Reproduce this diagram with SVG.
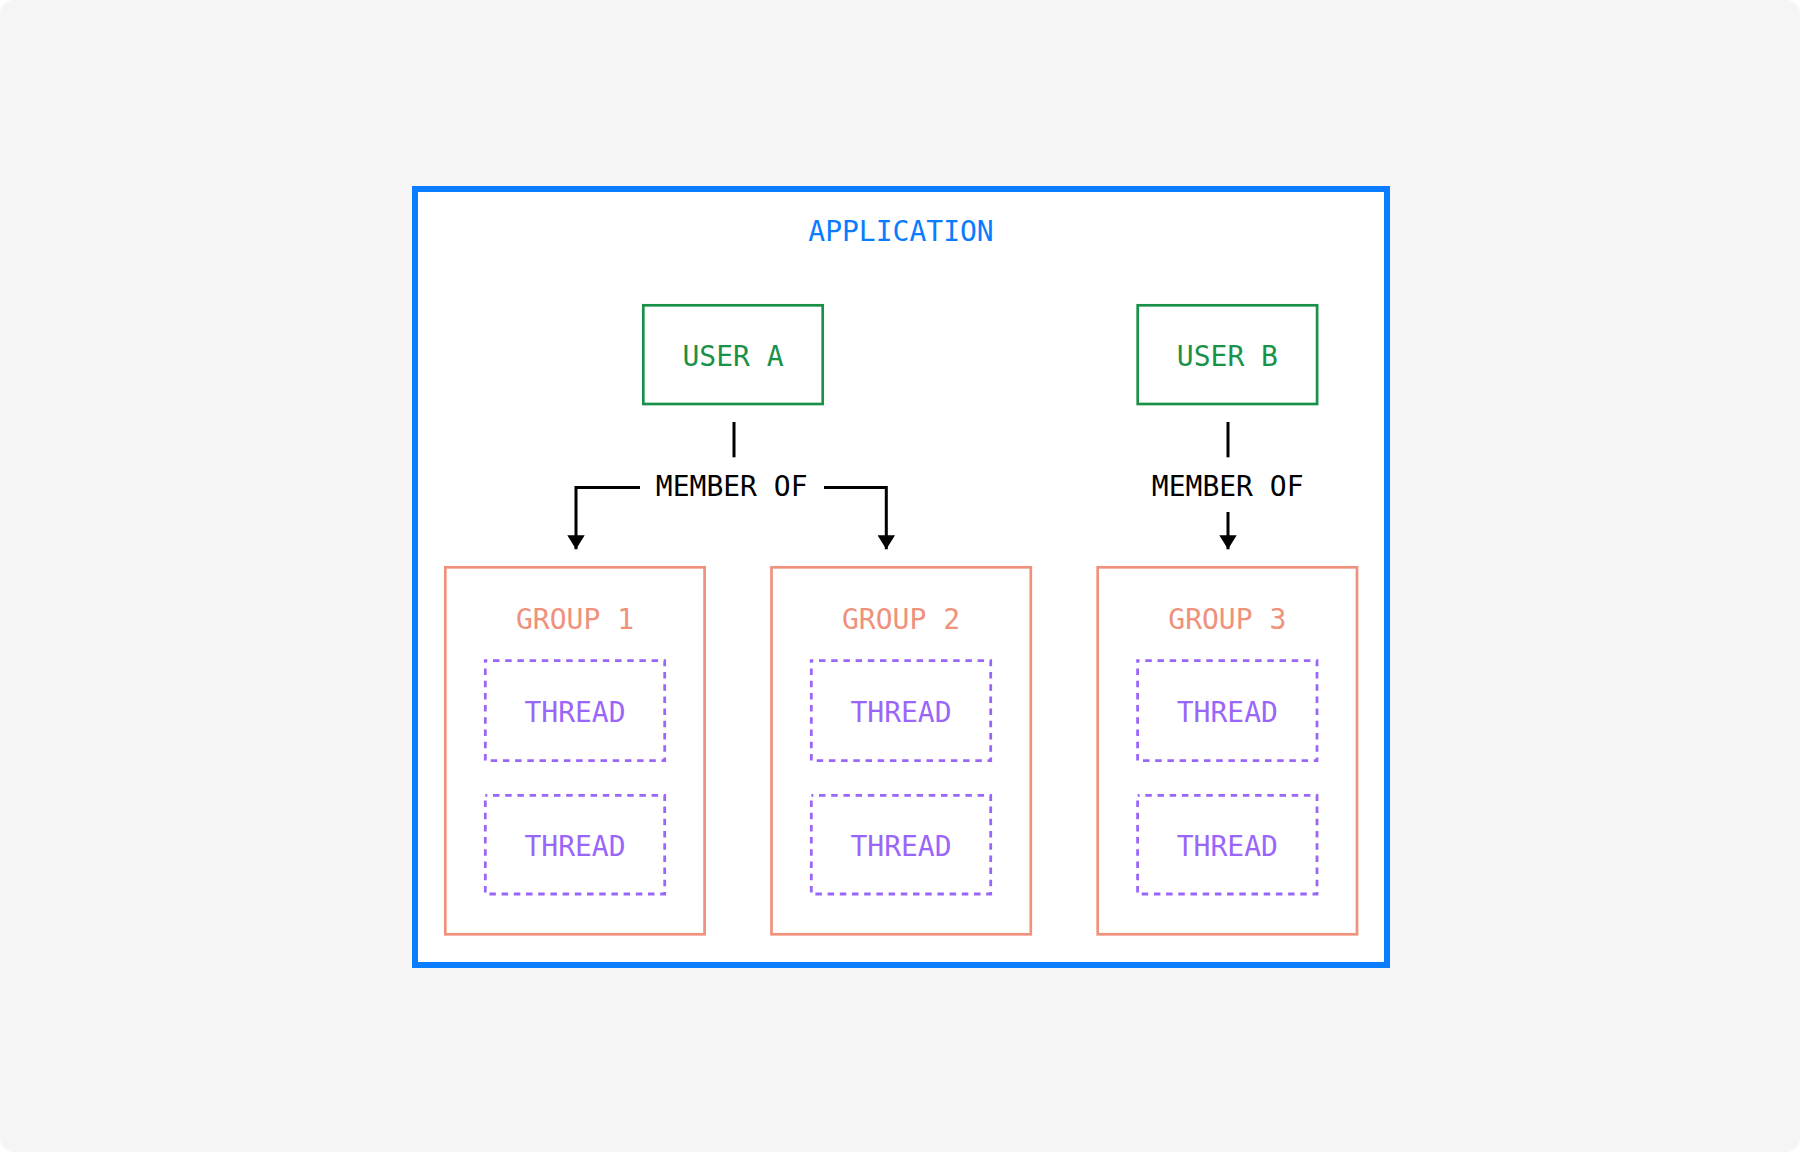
<svg xmlns="http://www.w3.org/2000/svg" width="1800" height="1152" viewBox="0 0 1800 1152">
  <defs>
    <style>
      text { font-family: "DejaVu Sans Mono", "Liberation Mono", monospace; font-size: 28px; text-anchor: middle; }
      .app { fill: #FFFFFF; stroke: #0A7CFF; stroke-width: 6; }
      .app-t { fill: #0A7CFF; }
      .user { fill: none; stroke: #1A9149; stroke-width: 2.7; }
      .user-t { fill: #1A9149; }
      .group { fill: none; stroke: #EF917B; stroke-width: 2.7; }
      .group-t { fill: #EF917B; }
      .thread { fill: none; stroke: #9A66FA; stroke-width: 2.8; stroke-dasharray: 6.5 5.7; stroke-dashoffset: 4.5; }
      .thread-t { fill: #9A66FA; }
      .conn { fill: none; stroke: #000; stroke-width: 3; stroke-linejoin: miter; }
      .label { fill: #000; }
    </style>
    <marker id="arrow" markerUnits="userSpaceOnUse" markerWidth="14" markerHeight="17.4" viewBox="0 0 14 17.4" refX="14" refY="8.7" orient="auto">
      <path d="M0,0 L14,8.7 L0,17.4 Z" fill="#000"/>
    </marker>
  </defs>

  <rect x="0" y="0" width="1800" height="1152" fill="#FFFFFF"/>
  <rect x="0" y="0" width="1800" height="1152" rx="14" ry="14" fill="#F5F5F5"/>

  <g id="application">
    <rect class="app" x="415" y="189" width="972" height="776"/>
    <text class="app-t" x="901" y="241">APPLICATION</text>
  </g>

  <g id="user-a">
    <rect class="user" x="643.3" y="305.3" width="179.4" height="98.7"/>
    <text class="user-t" x="733" y="366">USER A</text>
  </g>
  <g id="user-b">
    <rect class="user" x="1137.7" y="305.3" width="179.4" height="98.7"/>
    <text class="user-t" x="1227.4" y="366">USER B</text>
  </g>

  <g id="group-1">
    <rect class="group" x="445.3" y="567.3" width="259.3" height="367"/>
    <text class="group-t" x="575" y="628.5">GROUP 1</text>
  </g>
  <g id="group-1-thread-1">
    <rect class="thread" x="485.3" y="660.7" width="179.4" height="100"/>
    <text class="thread-t" x="575" y="722">THREAD</text>
  </g>
  <g id="group-1-thread-2">
    <rect class="thread" x="485.3" y="795.3" width="179.4" height="98.7"/>
    <text class="thread-t" x="575" y="856">THREAD</text>
  </g>

  <g id="group-2">
    <rect class="group" x="771.5" y="567.3" width="259.3" height="367"/>
    <text class="group-t" x="901" y="628.5">GROUP 2</text>
  </g>
  <g id="group-2-thread-1">
    <rect class="thread" x="811.3" y="660.7" width="179.4" height="100"/>
    <text class="thread-t" x="901" y="722">THREAD</text>
  </g>
  <g id="group-2-thread-2">
    <rect class="thread" x="811.3" y="795.3" width="179.4" height="98.7"/>
    <text class="thread-t" x="901" y="856">THREAD</text>
  </g>

  <g id="group-3">
    <rect class="group" x="1097.7" y="567.3" width="259.3" height="367"/>
    <text class="group-t" x="1227.3" y="628.5">GROUP 3</text>
  </g>
  <g id="group-3-thread-1">
    <rect class="thread" x="1137.6" y="660.7" width="179.4" height="100"/>
    <text class="thread-t" x="1227.3" y="722">THREAD</text>
  </g>
  <g id="group-3-thread-2">
    <rect class="thread" x="1137.6" y="795.3" width="179.4" height="98.7"/>
    <text class="thread-t" x="1227.3" y="856">THREAD</text>
  </g>

  <g id="connectors">
    <line class="conn" x1="734" y1="422" x2="734" y2="457.3"/>
    <text class="label" x="731.7" y="495.5">MEMBER OF</text>
    <polyline class="conn" points="640,487.5 576,487.5 576,549.3" marker-end="url(#arrow)"/>
    <polyline class="conn" points="824,487.5 886.3,487.5 886.3,549.3" marker-end="url(#arrow)"/>

    <line class="conn" x1="1228" y1="422" x2="1228" y2="457.3"/>
    <text class="label" x="1227.7" y="496">MEMBER OF</text>
    <line class="conn" x1="1228" y1="512" x2="1228" y2="549.3" marker-end="url(#arrow)"/>
  </g>
</svg>
